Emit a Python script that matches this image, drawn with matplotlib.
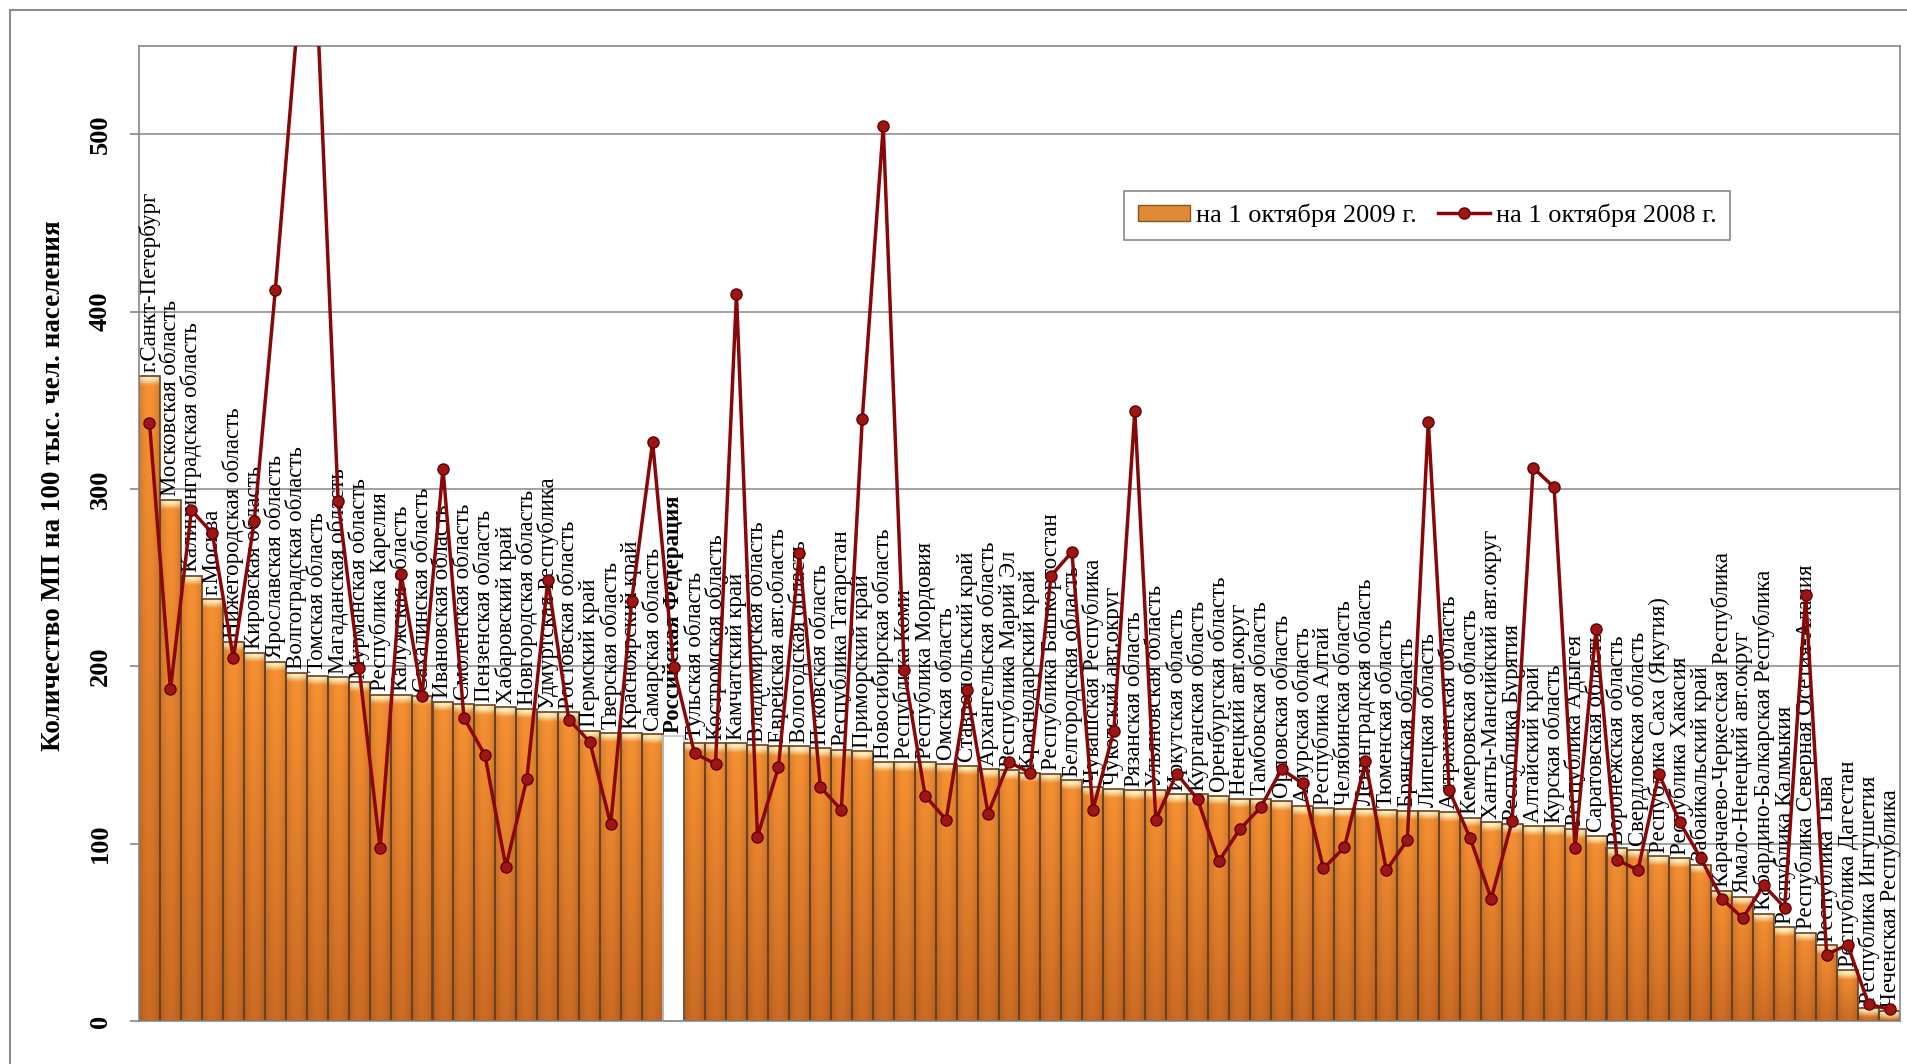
import numpy as np
import matplotlib
matplotlib.use('Agg')
import matplotlib.pyplot as plt
from matplotlib.patches import Rectangle, Patch
from matplotlib.lines import Line2D

regions = [
    "г.Санкт-Петербург", "Московская область", "Калининградская область", "г.Москва",
    "Нижегородская область", "Кировская область", "Ярославская область", "Волгоградская область",
    "Томская область", "Магаданская область", "Мурманская область", "Республика Карелия",
    "Калужская область", "Сахалинская область", "Ивановская область", "Смоленская область",
    "Пензенская область", "Хабаровский край", "Новгородская область", "Удмуртская Республика",
    "Ростовская область", "Пермский край", "Тверская область", "Красноярский край",
    "Самарская область", "Российская Федерация", "Тульская область", "Костромская область",
    "Камчатский край", "Владимирская область", "Еврейская авт.область", "Вологодская область",
    "Псковская область", "Республика Татарстан", "Приморский край", "Новосибирская область",
    "Республика Коми", "Республика Мордовия", "Омская область", "Ставропольский край",
    "Архангельская область", "Республика Марий Эл", "Краснодарский край", "Республика Башкортостан",
    "Белгородская область", "Чувашская Республика", "Чукотский авт.округ", "Рязанская область",
    "Ульяновская область", "Иркутская область", "Курганская область", "Оренбургская область",
    "Ненецкий авт.округ", "Тамбовская область", "Орловская область", "Амурская область",
    "Республика Алтай", "Челябинская область", "Ленинградская область", "Тюменская область",
    "Брянская область", "Липецкая область", "Астраханская область", "Кемеровская область",
    "Ханты-Мансийский авт.округ", "Республика Бурятия", "Алтайский край", "Курская область",
    "Республика Адыгея", "Саратовская область", "Воронежская область", "Свердловская область",
    "Республика Саха (Якутия)", "Республика Хакасия", "Забайкальский край",
    "Карачаево-Черкесская Республика", "Ямало-Ненецкий авт.округ", "Кабардино-Балкарская Республика",
    "Республика Калмыкия", "Республика Северная Осетия-Алания", "Республика Тыва",
    "Республика Дагестан", "Республика Ингушетия", "Чеченская Республика",
]

values_2009 = [
    364, 294, 251, 238, 214, 207.6, 202.6, 196.5, 194.6, 194,
    191, 184, 184, 183.5, 180, 179, 178, 177, 176, 174,
    174, 163.6, 162.5, 162.5, 161.7, 160.5, 157, 156.7, 156.5, 155.6,
    155, 155, 153.7, 153, 152, 146, 146, 146, 145, 144,
    142, 141.5, 140, 139.5, 135.7, 132, 131, 130, 130, 128,
    128, 127, 125.4, 125.4, 124, 121, 120, 119.6, 119.6, 119,
    118.5, 118.5, 117.7, 114.7, 112, 111, 109.7, 109.7, 108, 104.4,
    97.5, 96.7, 93, 91.7, 88, 73.4, 70, 60.4, 52.8, 49.7,
    42.8, 28.7, 7.6, 5.7,
]

values_2008 = [
    337.5, 187, 288, 275, 204.5, 282, 412, 555, 572, 293,
    199, 97.5, 252, 183.5, 311.5, 171, 150, 87, 136.5, 248.5,
    170, 157.5, 111, 237, 326.5, 199.5, 151, 145, 410, 104,
    143, 264, 132, 119, 339.5, 504.6, 198, 127, 113.5, 186.5,
    117, 146, 140, 251, 264.5, 119, 163.6, 344, 113.5, 139.5,
    125, 90, 108, 120.4, 142, 134, 86, 98, 146.4, 85,
    102, 338, 130, 103, 69, 112.8, 312, 301, 97.5, 221,
    91, 85, 139.5, 112, 91.7, 69, 58, 76.5, 64, 240,
    37.5, 43, 9.6, 6.5,
]

highlight = "Российская Федерация"
yticks = [0, 100, 200, 300, 400, 500]
legend_labels = ["на 1 октября 2009 г.", "на 1 октября 2008 г."]
ylabel = "Количество МП на 100 тыс. чел. населения"

plt.rcParams['font.family'] = ['Liberation Serif', 'DejaVu Serif']

W, H = 1907, 1064
fig = plt.figure(figsize=(W / 100, H / 100), dpi=100)
ax = fig.add_axes([139 / W, 43 / H, 1761 / W, (1021 - 45.7) / H])

x = np.arange(len(regions))
is_hl = [r == highlight for r in regions]
bars = ax.bar(x, values_2009, width=1.0,
              color=['white' if h else '#EE8530' for h in is_hl],
              edgecolor='none', zorder=2)

top_col = np.array([0.97, 0.57, 0.20])
bot_col = np.array([0.80, 0.42, 0.14])
cream = np.array([1.0, 0.93, 0.72])


def bar_image(h, ncols=24, nrows=300):
    yy = np.linspace(h, 0, nrows)
    d = h - yy
    frac = yy / h
    base = bot_col[None, :] + (top_col - bot_col)[None, :] * frac[:, None]
    w = np.clip(1 - (d - 1.8) / 3.5, 0, 1)
    col = base * (1 - w[:, None]) + cream[None, :] * w[:, None]
    u = np.linspace(-1, 1, ncols)
    shade = 1 - 0.14 * u ** 2
    img = col[:, None, :] * shade[None, :, None]
    return np.clip(img, 0, 1)


for patch, h, hl in zip(bars, values_2009, is_hl):
    if hl:
        continue
    l = patch.get_x()
    im = ax.imshow(bar_image(h), extent=(l, l + 1.0, 0, h), aspect='auto',
                   interpolation='bilinear', zorder=2.1)
    im.set_clip_path(patch)

ax.bar(x, values_2009, width=1.0, fill=False,
       edgecolor=['#c8c8c8' if h else '#6a4022' for h in is_hl],
       linewidth=1.2, zorder=2.2)

for xi, v, name, hl in zip(x, values_2009, regions, is_hl):
    ax.annotate(name, (xi, v), xytext=(0, 2.5), textcoords='offset points',
                rotation=90, ha='center', va='bottom', fontsize=16.5,
                fontweight='bold' if hl else 'normal', zorder=3,
                annotation_clip=False)

ax.plot(x, values_2008, color='#880808', lw=2.5, marker='o', ms=8,
        mfc='#9E1515', mec='#640000', mew=1.0, zorder=4)

ax.set_xlim(-0.5, len(regions) - 0.5)
ax.set_ylim(0, 550)
ax.set_xticks([])
ax.set_yticks(yticks)
ax.set_yticklabels([str(t) for t in yticks], rotation=90, va='center',
                   fontweight='bold', fontsize=19)
ax.tick_params(axis='y', length=6.5, width=1.2, color='#868686', pad=13)
ax.yaxis.grid(True, color='#888888', lw=1.1)
ax.set_axisbelow(True)
for s in ax.spines.values():
    s.set_color('#888888')
    s.set_linewidth(1.2)

fig.text(54 / W, 1 - 486 / H, ylabel, rotation=90, ha='center', va='center',
         fontsize=19.5, fontweight='bold')

handles = [Patch(facecolor='#E08A35', edgecolor='#8a5520', linewidth=1.0),
           Line2D([0], [0], color='#880808', lw=2.5, marker='o', ms=8,
                  mfc='#9E1515', mec='#640000')]
leg = ax.legend(handles, legend_labels, loc='center', ncol=2,
                bbox_to_anchor=(1427 / W, 1 - 215.5 / H),
                bbox_transform=fig.transFigure, fontsize=19, frameon=True,
                fancybox=False, edgecolor='#888888', framealpha=1,
                handlelength=2.0, handleheight=0.6, columnspacing=0.8,
                handletextpad=0.2, borderpad=0.5, borderaxespad=0)
leg.get_frame().set_linewidth(1.2)
leg.set_zorder(5)

fig.patches.append(Rectangle((10 / W, -0.05), 1.2, 1 - 10 / H + 0.05,
                             transform=fig.transFigure, fill=False,
                             edgecolor='#8c8c8c', linewidth=1.5))

fig.savefig('out.png', dpi=100)
